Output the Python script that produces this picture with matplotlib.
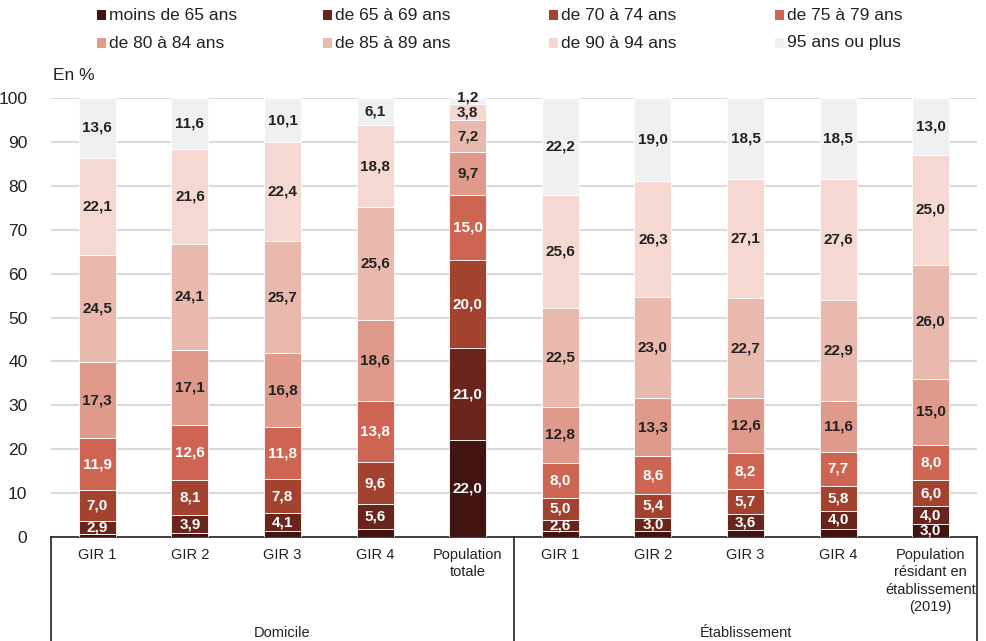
import matplotlib
matplotlib.use("Agg")
from matplotlib import pyplot as plt
from matplotlib.patches import Rectangle
import numpy as np

plt.rcParams['font.family'] = ['Liberation Sans', 'DejaVu Sans']

categories = ["GIR 1", "GIR 2", "GIR 3", "GIR 4", "Population\ntotale",
              "GIR 1", "GIR 2", "GIR 3", "GIR 4",
              "Population\nrésidant en\nétablissement\n(2019)"]
groups = ["Domicile", "Établissement"]

age_classes = ["moins de 65 ans", "de 65 à 69 ans", "de 70 à 74 ans", "de 75 à 79 ans",
               "de 80 à 84 ans", "de 85 à 89 ans", "de 90 à 94 ans", "95 ans ou plus"]

moins_65 = [0.7, 1.0, 1.3, 1.9, 22.0, 1.3, 1.4, 1.6, 1.9, 3.0]
de_65_69 = [2.9, 3.9, 4.1, 5.6, 21.0, 2.6, 3.0, 3.6, 4.0, 4.0]
de_70_74 = [7.0, 8.1, 7.8, 9.6, 20.0, 5.0, 5.4, 5.7, 5.8, 6.0]
de_75_79 = [11.9, 12.6, 11.8, 13.8, 15.0, 8.0, 8.6, 8.2, 7.7, 8.0]
de_80_84 = [17.3, 17.1, 16.8, 18.6, 9.7, 12.8, 13.3, 12.6, 11.6, 15.0]
de_85_89 = [24.5, 24.1, 25.7, 25.6, 7.2, 22.5, 23.0, 22.7, 22.9, 26.0]
de_90_94 = [22.1, 21.6, 22.4, 18.8, 3.8, 25.6, 26.3, 27.1, 27.6, 25.0]
plus_95 = [13.6, 11.6, 10.1, 6.1, 1.2, 22.2, 19.0, 18.5, 18.5, 13.0]

series = [moins_65, de_65_69, de_70_74, de_75_79, de_80_84, de_85_89, de_90_94, plus_95]
colors = ["#411411", "#69251b", "#a2422f", "#cd6552", "#e09a8b", "#eab9ae", "#f5d8d2", "#eff0f2"]
label_colors = ["white", "white", "white", "white", "#222222", "#222222", "#222222", "#222222"]

fig = plt.figure(figsize=(9.86, 6.41), dpi=100)
ax = fig.add_axes([51 / 986, 1 - 537 / 641, 926 / 986, 439 / 641])

x = np.arange(len(categories))
bottom = np.zeros(len(categories))
for k, (vals, col, lcol) in enumerate(zip(series, colors, label_colors)):
    vals = np.array(vals)
    ax.bar(x, vals, width=0.4, bottom=bottom, color=col, edgecolor="white", linewidth=0.6, zorder=3)
    for xi, v, b in zip(x, vals, bottom):
        # the small "moins de 65 ans" slices of the GIR bars carry no label
        if v < 2 and k < len(series) - 1:
            continue
        ypos = b + v / 2
        if v < 2:
            ypos = b + v + 0.3  # thin top slice: label sits just above
        ax.text(xi, ypos, f"{v:.1f}".replace(".", ","), ha="center", va="center",
                fontsize=11, fontweight="bold", color=lcol, zorder=4)
    bottom += vals

ax.set_xlim(-0.5, len(categories) - 0.5)
ax.set_ylim(0, 100)
ax.set_yticks(range(0, 101, 10))
ax.tick_params(axis="y", length=0, pad=17, labelsize=12.5, labelcolor="#222222")
ax.set_xticks(x)
ax.set_xticklabels(categories, fontsize=10.5, color="#222222", linespacing=1.3)
ax.tick_params(axis="x", length=0, pad=8)
ax.yaxis.grid(True, color="#d9d9d9", linewidth=1.5, zorder=0)
for s in ["top", "right", "left"]:
    ax.spines[s].set_visible(False)
ax.spines["bottom"].set_color("#222222")
ax.spines["bottom"].set_linewidth(1.2)

# group box under the categories
trans = ax.get_xaxis_transform()
ybot = -(1 - 537 / 641) / (439 / 641)
for xv in [-0.5, 4.5, 9.5]:
    ax.plot([xv, xv], [0, ybot], color="#222222", linewidth=1.2, transform=trans, clip_on=False)
for gx, g in zip([2, 7], groups):
    ax.text(gx, -0.218, g, transform=trans, ha="center", va="center", fontsize=10.5, color="#222222")

fig.text(53 / 986, 1 - 75 / 641, "En %", fontsize=12.5, color="#222222", va="center")

# legend
for i, (name, col) in enumerate(zip(age_classes, colors)):
    lx = 97 + (i % 4) * 226
    ly = 15 + (i // 4) * 28
    fig.patches.append(Rectangle((lx / 986, 1 - (ly + 5) / 641), 9 / 986, 10 / 641,
                                 facecolor=col, transform=fig.transFigure, figure=fig))
    fig.text((lx + 12) / 986, 1 - ly / 641, name, fontsize=12.5, color="#222222", va="center")

fig.savefig("out.png", dpi=100)
